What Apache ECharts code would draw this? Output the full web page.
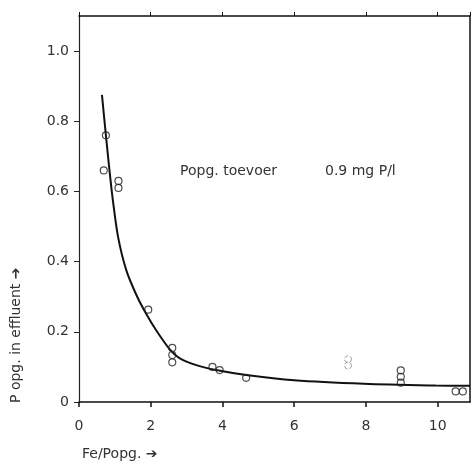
<!DOCTYPE html>
<html><head><meta charset="utf-8">
<script src="https://cdn.jsdelivr.net/npm/echarts@6/dist/echarts.min.js"></script>
<style>html,body{margin:0;padding:0;background:#fff}#c{width:471px;height:467px}</style>
</head><body><div id="c"></div>
<script>
// Fitted curve
const curveX = [0.64, 0.75, 0.86, 0.95, 1.09, 1.32, 1.6, 1.88, 2.16, 2.53, 2.8, 3.27, 3.82, 4.66, 6.0, 7.94, 9.94, 10.9];
const curveY = [0.875, 0.76, 0.65, 0.57, 0.47, 0.375, 0.305, 0.25, 0.203, 0.15, 0.125, 0.105, 0.091, 0.077, 0.062, 0.052, 0.047, 0.046];
// Measured points
const pointX = [0.75, 0.69, 1.1, 1.1, 1.93, 2.6, 2.6, 2.6, 3.72, 3.92, 4.66, 8.97, 8.97, 8.97, 10.5, 10.7];
const pointY = [0.76, 0.66, 0.63, 0.61, 0.263, 0.154, 0.134, 0.113, 0.10, 0.091, 0.069, 0.09, 0.072, 0.055, 0.03, 0.03];
// Faint points
const faintX = [7.5, 7.5];
const faintY = [0.122, 0.104];
const xTicks = [0, 2, 4, 6, 8, 10];
const yTicks = [0, 0.2, 0.4, 0.6, 0.8, 1.0];
const annotation = ['Popg. toevoer', '0.9 mg P/l'];
const yName = 'P opg. in effluent \u2794';
const xName = 'Fe/Popg. \u2794';

const zip = (a, b) => a.map((v, i) => [v, b[i]]);
const font = 'DejaVu Sans';
const chart = echarts.init(document.getElementById('c'));
chart.setOption({
  animation: false,
  backgroundColor: '#fff',
  grid: { left: 79, right: 1, top: 16, bottom: 65 },
  xAxis: [{
    type: 'value', min: 0, max: 10.9, interval: 2,
    axisLine: { lineStyle: { color: '#111', width: 1.5 } },
    axisTick: { show: true, inside: false, length: 5, lineStyle: { color: '#111', width: 1.5 } },
    axisLabel: { showMaxLabel: false, color: '#333', fontFamily: font, fontSize: 14, margin: 17,
      formatter: v => xTicks.includes(v) ? String(v) : '' },
    splitLine: { show: false }
  }, {
    type: 'value', position: 'top', min: 0, max: 10.9, interval: 2,
    axisLine: { show: true, onZero: false, lineStyle: { color: '#111', width: 1.5 } },
    axisTick: { show: true, inside: false, length: 4, lineStyle: { color: '#111' } },
    axisLabel: { show: false }, splitLine: { show: false }
  }],
  yAxis: [{
    type: 'value', min: 0, max: 1.1, interval: 0.2,
    axisLine: { show: true, lineStyle: { color: '#222', width: 1.2 } },
    axisTick: { show: true, inside: false, length: 5, lineStyle: { color: '#222' } },
    axisLabel: { showMaxLabel: false, color: '#333', fontFamily: font, fontSize: 14, margin: 10,
      formatter: v => v === 0 ? '0' : (yTicks.some(t => Math.abs(t - v) < 1e-9) ? v.toFixed(1) : '') },
    splitLine: { show: false }
  }, {
    type: 'value', position: 'right', min: 0, max: 1.1,
    axisLine: { show: true, onZero: false, lineStyle: { color: '#111', width: 1.5 } },
    axisTick: { show: false }, axisLabel: { show: false }, splitLine: { show: false }
  }],
  series: [{
    type: 'line', data: zip(curveX, curveY), smooth: 0.3,
    showSymbol: false, lineStyle: { color: '#111', width: 2 }, z: 2
  }, {
    type: 'scatter', data: zip(pointX, pointY), symbol: 'circle', symbolSize: 7,
    itemStyle: { color: 'rgba(0,0,0,0)', borderColor: '#222', borderWidth: 1.2 }, z: 3
  }, {
    type: 'scatter', data: zip(faintX, faintY), symbol: 'circle', symbolSize: 7,
    itemStyle: { color: 'rgba(0,0,0,0)', borderColor: '#888', borderWidth: 1, borderType: 'dashed' }, z: 3
  }],
  graphic: [
    { type: 'text', left: 180, top: 164, style: { text: annotation[0], fill: '#333', font: '14px "DejaVu Sans"' } },
    { type: 'text', left: 325, top: 164, style: { text: annotation[1], fill: '#333', font: '14px "DejaVu Sans"' } },
    { type: 'text', x: 9, y: 403, rotation: Math.PI / 2,
      style: { text: yName, fill: '#333', font: '14px "DejaVu Sans"', textAlign: 'left', textVerticalAlign: 'top' } },
    { type: 'text', left: 82, top: 447, style: { text: xName, fill: '#333', font: '14px "DejaVu Sans"' } }
  ]
});
</script></body></html>
